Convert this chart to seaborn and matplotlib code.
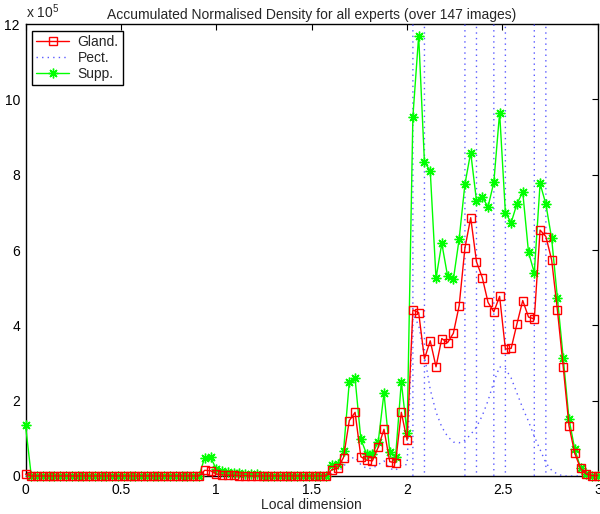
import numpy as np
import pandas as pd
import matplotlib
matplotlib.use("Agg")
import matplotlib.pyplot as plt
from matplotlib.lines import Line2D
from matplotlib.ticker import FuncFormatter
import seaborn as sns

# ---------------- data (values in units of 1e5) ----------------
n_points = 100
x_min, x_max = 0.0, 3.0
scale = 1e5

gland = [0.05] + [0.0] * 30 + [
    0.15, 0.14, 0.05, 0.03, 0.02, 0.02, 0.01, 0.01] + [0.0] * 14 + [
    0.17, 0.20, 0.49, 1.47, 1.69, 0.51, 0.42, 0.40, 0.76, 1.24, 0.38, 0.35, 1.69, 0.95,
    4.41, 4.34, 3.11, 3.59, 2.90, 3.65, 3.54, 3.79, 4.52, 6.05, 6.86, 5.69, 5.27,
    4.61, 4.36, 4.77, 3.37, 3.39, 4.04, 4.66, 4.22, 4.17, 6.53, 6.36, 5.74, 4.40,
    2.90, 1.33, 0.60, 0.20, 0.05, 0.01, 0.01]

supp = [1.35] + [0.0] * 30 + [
    0.49, 0.50, 0.18, 0.12, 0.10, 0.08, 0.07, 0.06, 0.05, 0.04] + [0.01] * 12 + [
    0.30, 0.32, 0.66, 2.49, 2.59, 0.98, 0.58, 0.59, 0.90, 2.20, 0.64, 0.50, 2.50, 1.13,
    9.54, 11.69, 8.33, 8.11, 5.25, 6.18, 5.31, 5.22, 6.29, 7.75, 8.59, 7.31, 7.40,
    7.15, 7.80, 9.65, 6.99, 6.73, 7.23, 7.54, 5.94, 5.40, 7.77, 7.22, 6.31, 4.72,
    3.14, 1.51, 0.71, 0.22, 0.05, 0.01, 0.0]

pect = [0.0] * 53 + [
    0.05, 0.10, 0.25, 0.45, 0.50, 0.30, 0.20, 0.20, 0.30, 0.40, 0.20, 0.15, 0.30, 0.30,
    4.30, 4.00, 3.20, 2.30, 1.70, 1.30, 1.05, 0.90, 0.88, 0.95, 1.10, 1.30, 1.60,
    2.00, 2.50, 2.90, 2.85, 2.60, 2.20, 1.80, 1.45, 1.05, 0.70, 0.35, 0.15, 0.05] + [0.0] * 7

# Pect. has isolated off-scale spikes at these sample indices
pect_spike_idx = [68, 77, 82, 89]
pect_spike_height = 1.0e4

xs = np.linspace(x_min, x_max, n_points)

# ---------------- build tables ----------------
df_gland = pd.DataFrame({"x": xs, "y": np.array(gland) * scale})
df_supp = pd.DataFrame({"x": xs, "y": np.array(supp) * scale})

rows = [{"seg": 0, "x": xv, "y": yv * scale} for xv, yv in zip(xs, pect)]
for k, idx in enumerate(pect_spike_idx, start=1):
    rows.append({"seg": k, "x": xs[idx - 1], "y": 0.0})
    rows.append({"seg": k, "x": xs[idx], "y": pect_spike_height * scale})
    rows.append({"seg": k, "x": xs[idx + 1], "y": 0.0})
df_pect = pd.DataFrame(rows)

# ---------------- style ----------------
sns.set_style("white")
plt.rcParams["font.family"] = ["Liberation Sans", "DejaVu Sans"]
plt.rcParams["mathtext.fontset"] = "custom"
plt.rcParams["mathtext.rm"] = "Liberation Sans"
plt.rcParams["mathtext.it"] = "Liberation Sans"

fig = plt.figure(figsize=(6.0, 5.14), dpi=100)
ax = fig.add_axes([0.0425, 0.074, 0.954, 0.879])

red = (1.0, 0.0, 0.0)
green = (0.0, 1.0, 0.0)
blue = (0.35, 0.35, 1.0)

sns.lineplot(data=df_pect, x="x", y="y", units="seg", estimator=None, sort=False,
             color=blue, linestyle=(0, (1, 3)), linewidth=1.0, ax=ax, zorder=1)
sns.lineplot(data=df_gland, x="x", y="y", estimator=None, sort=False,
             color=red, linewidth=1.0, marker="s", markersize=6,
             markerfacecolor="none", markeredgecolor=red, markeredgewidth=1.0,
             ax=ax, zorder=3, clip_on=False)
sns.lineplot(data=df_supp, x="x", y="y", estimator=None, sort=False,
             color=green, linewidth=1.0, marker=(8, 2, 0), markersize=7,
             markeredgecolor=green, markeredgewidth=1.0,
             ax=ax, zorder=2, clip_on=False)

ax.set_xlim(x_min, x_max)
ax.set_ylim(0, 12 * scale)
ax.set_xticks([0, 0.5, 1, 1.5, 2, 2.5, 3])
ax.set_xticklabels(["0", "0.5", "1", "1.5", "2", "2.5", "3"])
ax.set_yticks(np.arange(0, 13, 2) * scale)
ax.yaxis.set_major_formatter(FuncFormatter(lambda v, p: f"{v / scale:g}"))

for s in ax.spines.values():
    s.set_visible(True)
    s.set_color("black")
    s.set_linewidth(1.0)
    s.set_zorder(0.5)
ax.tick_params(direction="in", length=4, width=0.8, top=True, right=True,
               labelsize=10, colors="black", pad=4)
ax.tick_params(axis="x", pad=5)

ax.set_xlabel("Local dimension", fontsize=10, labelpad=1)
ax.set_ylabel("")
ax.set_title("Accumulated Normalised Density for all experts (over 147 images)",
             fontsize=10, pad=4)
ax.text(0.0, 1.006, "x 10$^{5}$", transform=ax.transAxes, ha="left", va="bottom",
        fontsize=10)

handles = [
    Line2D([], [], color=red, lw=1.0, marker="s", markersize=6,
           markerfacecolor="none", markeredgecolor=red),
    Line2D([], [], color=blue, lw=1.0, linestyle=(0, (1, 3))),
    Line2D([], [], color=green, lw=1.0, marker=(8, 2, 0), markersize=7,
           markeredgecolor=green),
]
leg = ax.legend(handles, ["Gland.", "Pect.", "Supp."], loc="upper left",
                bbox_to_anchor=(0.006, 0.992), fontsize=10, frameon=True,
                fancybox=False, framealpha=1.0, edgecolor="black",
                borderpad=0.3, labelspacing=0.15, handlelength=2.4,
                handletextpad=0.6, borderaxespad=0.2)
leg.get_frame().set_linewidth(1.0)
leg.set_zorder(5)

fig.savefig("out.png", dpi=100)
